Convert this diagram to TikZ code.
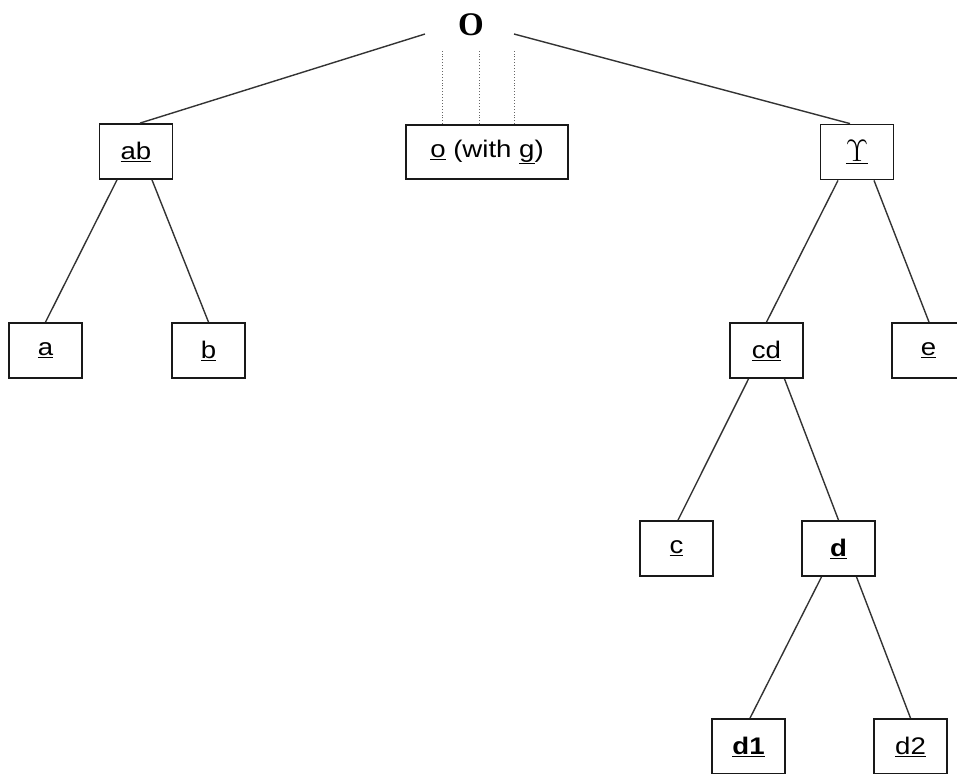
\documentclass[tikz,border=0pt]{standalone}
\usepackage{fontspec}
\usepackage{graphicx}
\setmainfont[FakeStretch=1.15]{Liberation Sans}
\newfontfamily\serifO{Liberation Serif}
\usetikzlibrary{calc}
\tikzset{
  box/.style={draw=black!90, line width=1.8pt, rectangle, minimum width=73pt, minimum height=55pt, inner sep=0pt, font=\fontsize{24}{28}\selectfont},
  edge/.style={draw=black!80, line width=1.4pt},
  dots/.style={draw=black!60, line width=0.9pt, dotted},
}
\begin{document}
\begin{tikzpicture}[x=1pt,y=-1pt]
\useasboundingbox (0,0) rectangle (957,773);
\clip (0,0) rectangle (957,773);
\node[font=\serifO\bfseries\fontsize{33}{36}\selectfont, inner sep=0pt] (O) at (471,25) {O};
\node[box] (ab) at (136,151.5) {\underline{ab}};
\node[box, minimum width=162pt, minimum height=54pt] (o) at (487,152) {\underline{o} (with \underline{g})};
\node[box] (g) at (857,152) {\underline{\scalebox{1.25}{$\Upsilon$}}};
\node[box] (a) at (45.5,350.5) {\underline{a}};
\node[box] (b) at (208.5,350.5) {\underline{b}};
\node[box] (cd) at (766.5,350.5) {\underline{cd}};
\node[box] (e) at (928.5,350.5) {\underline{e}};
\node[box] (c) at (676.5,548.5) {\underline{c}};
\node[box] (d) at (838.5,548.5) {\underline{\textbf{d}}};
\node[box] (d1) at (748.5,746.5) {\underline{\textbf{d1}}};
\node[box] (d2) at (910.5,746.5) {\underline{d2}};
% edges
\draw[edge] ($(O.center)+(-46,9)$) -- ([xshift=4pt]ab.north);
\draw[edge] ($(O.center)+(43,9)$) -- ([xshift=-7pt]g.north);
\foreach \s in {-45,-8,27}{
  \draw[dots] ([xshift=\s pt]o.north) -- ([xshift=\s pt, yshift=73pt]o.north);
}
\draw[edge] ([xshift=-19pt]ab.south) -- (a.north);
\draw[edge] ([xshift=16pt]ab.south) -- (b.north);
\draw[edge] ([xshift=-19pt]g.south) -- (cd.north);
\draw[edge] ([xshift=17pt]g.south) -- ([xshift=0.5pt]e.north);
\draw[edge] ([xshift=-18pt]cd.south) -- ([xshift=1.5pt]c.north);
\draw[edge] ([xshift=18pt]cd.south) -- (d.north);
\draw[edge] ([xshift=-17pt]d.south) -- ([xshift=1.5pt]d1.north);
\draw[edge] ([xshift=18pt]d.south) -- (d2.north);
\end{tikzpicture}
\end{document}
